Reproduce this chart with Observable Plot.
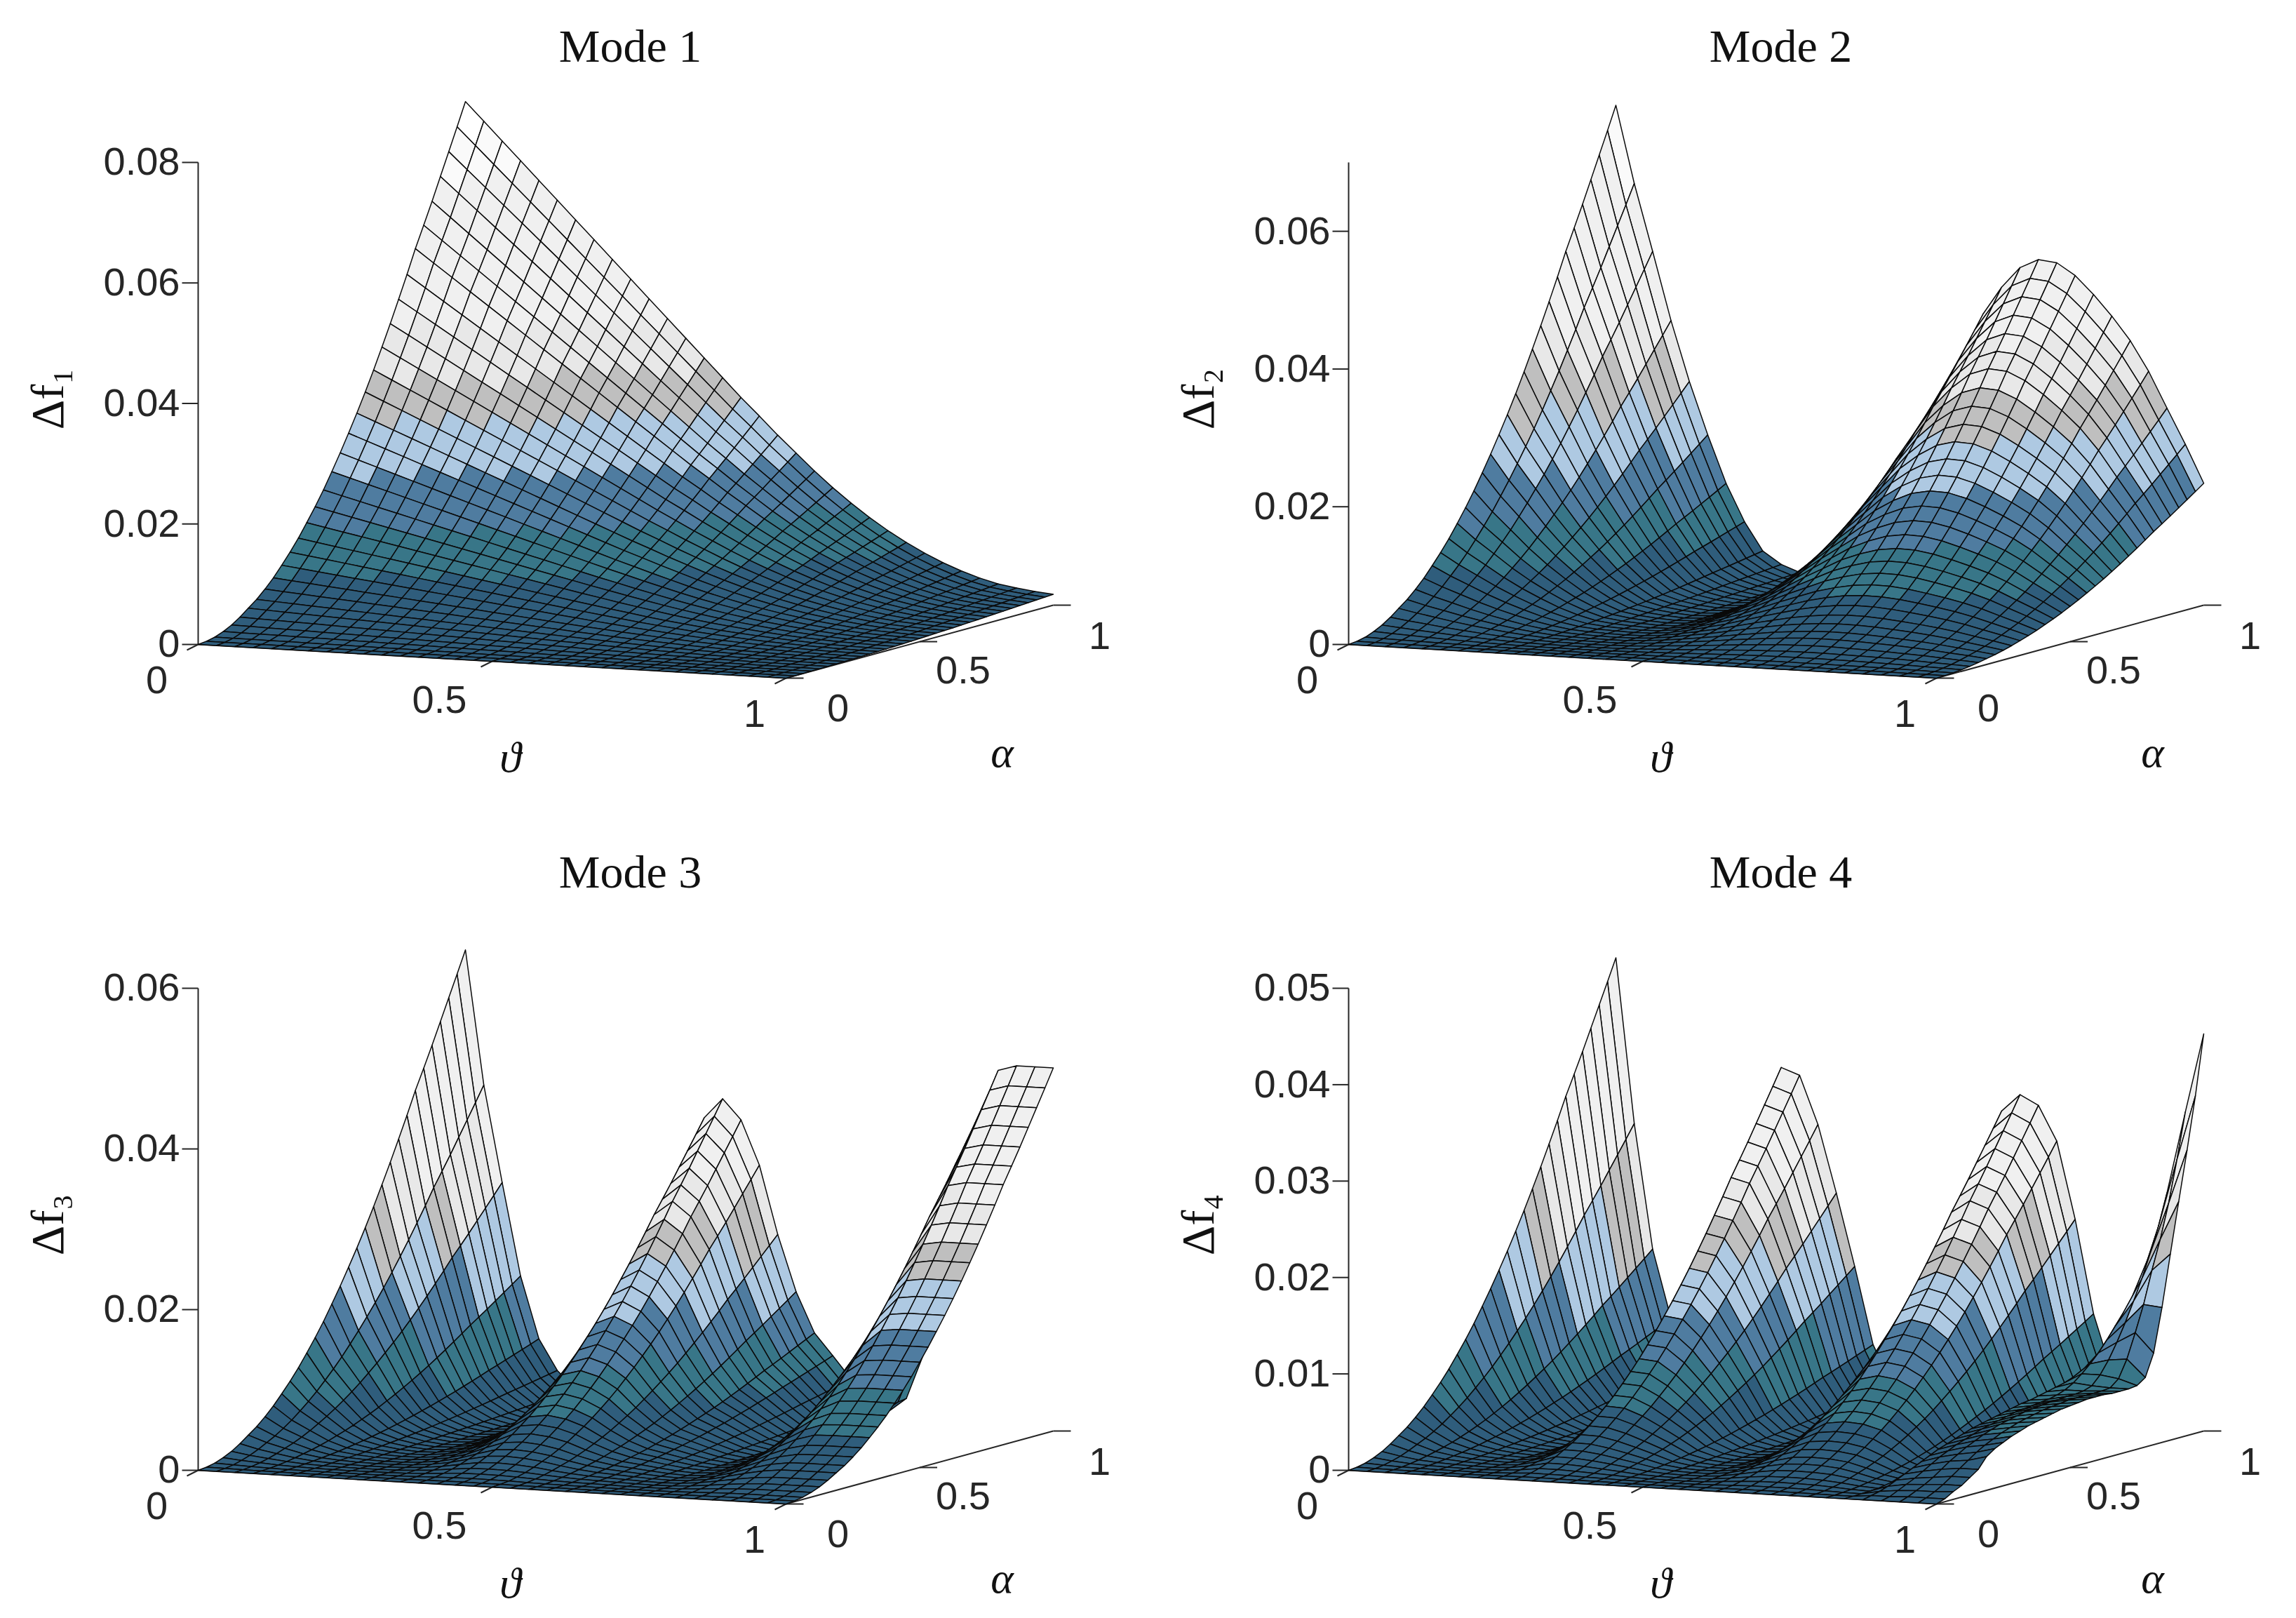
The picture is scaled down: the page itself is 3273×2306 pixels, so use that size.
<!DOCTYPE html>
<html>
<head>
<meta charset="utf-8">
<style>html,body{margin:0;padding:0;background:#fff}svg{display:block}</style>
<script src="https://cdn.jsdelivr.net/npm/d3@7"></script>
<script src="https://cdn.jsdelivr.net/npm/@observablehq/plot@0.6"></script>
</head>
<body>
<div id="chart"></div>
<script>
// Values: Δf along ϑ at the far edge (α = 1), 33 stations
const mode1Theta=[.0780,.0749,.0718,.0687,.0656,.0625,.0594,.0563,.0532,.0501,.0470,.0439,.0408,.0377,.0346,.0315,.0286,.0256,.0228,.0200,.0174,.0150,.0128,.0108,.0090,.0074,.0060,.0048,.0038,.0030,.0025,.0021,.0018];
const mode2Theta=[.0677,.0565,.0468,.0369,.0282,.0206,.0137,.0083,.0042,.0024,.0014,.0008,.0012,.0035,.0075,.0125,.0175,.0235,.0295,.0350,.0405,.0445,.0475,.0488,.0485,.0468,.0442,.0412,.0378,.0335,.0283,.0232,.0177];
const mode3Theta=[.0557,.0390,.0270,.0155,.0078,.0040,.0018,.0008,.0012,.0032,.0075,.0150,.0265,.0365,.0390,.0365,.0310,.0225,.0155,.0105,.0078,.0050,.0025,.0012,.0030,.0090,.0190,.0300,.0390,.0445,.0452,.0452,.0452];
const mode4Theta=[.0456,.0285,.0156,.0085,.0042,.0020,.0010,.0050,.0170,.0352,.0345,.0295,.0225,.0150,.0070,.0030,.0015,.0020,.0060,.0150,.0245,.0320,.0338,.0328,.0292,.0212,.0115,.0055,.0030,.0025,.0025,.0025,.0025];
// Share of that far-edge value reached along α, 33 stations
const alphaShare=[0,.002,.006,.013,.022,.034,.048,.062,.079,.098,.120,.143,.168,.196,.225,.256,.290,.325,.362,.400,.440,.482,.526,.571,.618,.666,.716,.761,.807,.855,.903,.951,1];
// Mode 4, the last ϑ stations read directly along α
const mode4Column28=[0,.0002,.0004,.0007,.0011,.0015,.0019,.0023,.0027,.0031,.0034,.0037,.0040,.0043,.0045,.0047,.0049,.0051,.0053,.0055,.0056,.0058,.0060,.0062,.0064,.0067,.0070,.0073,.0076,.0079,.0082,.0086,.0090];
const mode4Column29=[0,.0002,.0006,.0010,.0014,.0019,.0024,.0029,.0033,.0037,.0040,.0043,.0046,.0048,.0050,.0052,.0054,.0055,.0056,.0057,.0058,.0060,.0063,.0068,.0075,.0083,.0092,.0103,.0115,.0127,.0140,.0154,.0170];
const mode4Column30=[0,.0003,.0007,.0011,.0016,.0022,.0028,.0033,.0038,.0042,.0046,.0049,.0052,.0054,.0056,.0058,.0059,.0060,.0061,.0061,.0062,.0062,.0063,.0066,.0075,.0088,.0104,.0122,.0142,.0163,.0187,.0213,.0245];
const mode4Column31=[0,.0003,.0007,.0012,.0018,.0024,.0030,.0036,.0041,.0045,.0049,.0052,.0055,.0057,.0059,.0061,.0062,.0063,.0064,.0064,.0064,.0064,.0064,.0065,.0072,.0090,.0115,.0142,.0175,.0205,.0240,.0283,.0330];
const mode4Column32=[0,.0003,.0008,.0012,.0018,.0024,.0035,.0041,.0045,.0049,.0052,.0055,.0057,.0059,.0061,.0063,.0064,.0065,.0066,.0066,.0066,.0065,.0065,.0065,.0066,.0072,.0095,.0140,.0193,.0245,.0296,.0350,.0412];

const titles=["Mode 1","Mode 2","Mode 3","Mode 4"];
const zLabels=["Δf₁","Δf₂","Δf₃","Δf₄"];
const zTop=[.08,.07,.06,.05];
const zTicks=[[0,.02,.04,.06,.08],[0,.02,.04,.06],[0,.02,.04,.06],[0,.01,.02,.03,.04,.05]];
const zFormat=[d3.format(".2f"),d3.format(".2f"),d3.format(".2f"),d3.format(".2f")];
const thetaTicks=[0,.5,1];
const alphaTicks=[0,.5,1];
const shareBands=[.105,.185,.283,.385,.463,.56,.86,.94];
const bandColors=["#2f5d7c","#387688","#4f7ca0","#aec9e2","#bfbfbf","#e8e8e8","#f0f0f0","#fafafa","#ffffff"];

// Layout of the four panels on the page
const panelX=[0,1640,0,1640], panelY=[0,0,1177,1177];
const originX=282, originY=918;
const thetaDX=838, thetaDY=48, alphaDX=381, alphaDY=-104, zHeight=687;
const project=(p,t,a,z)=>[panelX[p]+originX+thetaDX*t+alphaDX*a, panelY[p]+originY+thetaDY*t+alphaDY*a-z*zHeight/zTop[p]];

const mode4Tail={28:mode4Column28,29:mode4Column29,30:mode4Column30,31:mode4Column31,32:mode4Column32};
const tables=[mode1Theta,mode2Theta,mode3Theta,mode4Theta].map((profile,p)=>
  alphaShare.map((share,j)=>profile.map((v,i)=>p===3&&mode4Tail[i]?mode4Tail[i][j]:v*share)));
const peaks=tables.map(t=>d3.max(t.flat()));
const peaks0=[mode1Theta[0],mode2Theta[0],mode3Theta[0],mode4Theta[0]];

const quads=[];
tables.forEach((table,p)=>{
  const n=alphaShare.length-1, m=mode1Theta.length-1;
  for(let j=n-1;j>=0;j--) for(let i=0;i<m;i++){
    const corners=[[i,j],[i+1,j],[i+1,j+1],[i,j+1],[i,j]];
    const mean=d3.mean(corners.slice(0,4),([a,b])=>table[b][a]);
    const color=bandColors[d3.bisectRight(shareBands,mean/peaks0[p])];
    const id=`${p}-${j}-${i}`;
    for(const [a,b] of corners){
      const [x,y]=project(p,a/m,b/n,table[b][a]);
      quads.push({x,y,id,color});
    }
  }
});

const axisLines=[], textTicks=[], axisTitles=[];
const thetaLabelShift=[[-59,52],[-75,56],[-45,52]];
const alphaLabelShift=[[74,44],[62,42],[66,45]];
titles.forEach((title,p)=>{
  const seg=(a,b)=>axisLines.push({x1:a[0],y1:a[1],x2:b[0],y2:b[1]});
  seg(project(p,0,0,0),project(p,0,0,zTop[p]));
  seg(project(p,0,0,0),project(p,1,0,0));
  seg(project(p,1,0,0),project(p,1,1,0));
  for(const z of zTicks[p]){
    const q=project(p,0,0,z);
    seg(q,[q[0]-23,q[1]]);
    textTicks.push({x:q[0]-26,y:q[1],t:z===0?"0":zFormat[p](z),a:"end"});
  }
  thetaTicks.forEach((t,k)=>{
    const q=project(p,t,0,0);
    seg(q,[q[0]-16,q[1]+8]);
    textTicks.push({x:q[0]+thetaLabelShift[k][0],y:q[1]+thetaLabelShift[k][1],t:String(t),a:"middle"});
  });
  alphaTicks.forEach((a,k)=>{
    const q=project(p,1,a,0);
    seg(q,[q[0]+25,q[1]]);
    textTicks.push({x:q[0]+alphaLabelShift[k][0],y:q[1]+alphaLabelShift[k][1],t:String(a),a:"middle"});
  });
  axisTitles.push({x:panelX[p]+898,y:panelY[p]+66,t:title,kind:"title"});
  axisTitles.push({x:panelX[p]+68,y:panelY[p]+568,t:zLabels[p],kind:"z"});
  axisTitles.push({x:panelX[p]+727,y:panelY[p]+1080,t:"ϑ",kind:"math"});
  axisTitles.push({x:panelX[p]+1428,y:panelY[p]+1073,t:"α",kind:"math"});
});

const serif="'Liberation Serif',serif";
const chart=Plot.plot({
  width:3273,height:2306,margin:0,
  style:{background:"#fff"},
  x:{domain:[0,3273],range:[0,3273],axis:null},
  y:{domain:[0,2306],range:[0,2306],axis:null},
  color:{type:"identity"},
  marks:[
    Plot.link(axisLines,{x1:"x1",y1:"y1",x2:"x2",y2:"y2",stroke:"#262626",strokeWidth:2}),
    Plot.line(quads,{x:"x",y:"y",z:"id",fill:"color",stroke:"#0a0a0a",strokeWidth:1.5,strokeLinejoin:"round"}),
    Plot.text(textTicks,{x:"x",y:"y",text:"t",textAnchor:"end",filter:d=>d.a==="end",fontFamily:"'Liberation Sans',Arial,sans-serif",fontSize:56,fill:"#262626"}),
    Plot.text(textTicks,{x:"x",y:"y",text:"t",textAnchor:"middle",filter:d=>d.a==="middle",fontFamily:"'Liberation Sans',Arial,sans-serif",fontSize:56,fill:"#262626"}),
    Plot.text(axisTitles,{x:"x",y:"y",text:"t",filter:d=>d.kind==="title",fontFamily:serif,fontSize:66,fill:"#111"}),
    Plot.text(axisTitles,{x:"x",y:"y",text:"t",filter:d=>d.kind==="z",rotate:-90,fontFamily:serif,fontSize:66,fill:"#111"}),
    Plot.text(axisTitles,{x:"x",y:"y",text:"t",filter:d=>d.kind==="math",fontFamily:serif,fontStyle:"italic",fontSize:62,fill:"#111"})
  ]
});
document.getElementById("chart").appendChild(chart);
</script>
</body>
</html>
